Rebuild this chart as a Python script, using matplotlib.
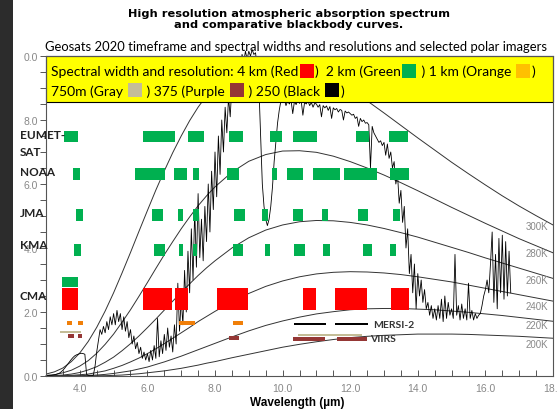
import numpy as np
import matplotlib
matplotlib.use("Agg")
import matplotlib.pyplot as plt
from matplotlib.patches import Rectangle
from matplotlib.ticker import MultipleLocator
from matplotlib.offsetbox import TextArea, DrawingArea, HPacker, VPacker, AnchoredOffsetbox

# blackbody reference curves, radiance read at these wavelengths (um)
BB_WL = [3.0, 3.25, 3.5, 3.75, 4.0, 4.25, 4.5, 4.75, 5.0, 5.25, 5.5, 5.75, 6.0, 6.25,
         6.5, 6.75, 7.0, 7.25, 7.5, 7.75, 8.0, 8.5, 9.0, 9.5, 10.0, 10.5, 11.0, 11.5,
         12.0, 12.5, 13.0, 13.5, 14.0, 14.5, 15.0, 15.5, 16.0, 16.5, 17.0, 17.5, 18.0]
BB_300 = [0.06, 0.13, 0.25, 0.45, 0.72, 1.08, 1.52, 2.03, 2.60, 3.22, 3.86, 4.52, 5.17, 5.81,
          6.41, 6.98, 7.50, 7.98, 8.40, 8.76, 9.08, 9.55, 9.83, 9.94, 9.92, 9.79, 9.57, 9.29,
          8.96, 8.60, 8.22, 7.83, 7.44, 7.06, 6.68, 6.32, 5.97, 5.63, 5.31, 5.01, 4.72]
BB_280 = [0.02, 0.04, 0.10, 0.18, 0.31, 0.48, 0.71, 0.99, 1.31, 1.68, 2.07, 2.49, 2.92, 3.36,
          3.79, 4.20, 4.60, 4.97, 5.32, 5.63, 5.91, 6.37, 6.71, 6.92, 7.03, 7.04, 6.99, 6.87,
          6.70, 6.50, 6.28, 6.04, 5.79, 5.53, 5.27, 5.02, 4.77, 4.53, 4.29, 4.07, 3.85]
BB_260 = [0.00, 0.01, 0.03, 0.06, 0.11, 0.19, 0.29, 0.43, 0.59, 0.79, 1.01, 1.25, 1.51, 1.78,
          2.06, 2.34, 2.61, 2.88, 3.14, 3.38, 3.60, 4.00, 4.32, 4.56, 4.72, 4.82, 4.86, 4.85,
          4.80, 4.72, 4.61, 4.48, 4.34, 4.18, 4.02, 3.86, 3.69, 3.53, 3.37, 3.21, 3.05]
BB_240 = [0.00, 0.00, 0.01, 0.02, 0.04, 0.06, 0.11, 0.16, 0.24, 0.33, 0.44, 0.56, 0.70, 0.85,
          1.01, 1.18, 1.35, 1.52, 1.70, 1.86, 2.02, 2.32, 2.58, 2.80, 2.97, 3.10, 3.19, 3.24,
          3.26, 3.25, 3.22, 3.17, 3.10, 3.02, 2.94, 2.84, 2.74, 2.64, 2.54, 2.44, 2.34]
BB_220 = [0.00, 0.00, 0.00, 0.00, 0.01, 0.02, 0.03, 0.05, 0.08, 0.12, 0.16, 0.22, 0.28, 0.36,
          0.44, 0.53, 0.62, 0.72, 0.82, 0.92, 1.02, 1.22, 1.41, 1.58, 1.72, 1.84, 1.94, 2.01,
          2.07, 2.10, 2.11, 2.11, 2.09, 2.07, 2.03, 1.99, 1.94, 1.89, 1.83, 1.77, 1.71]
BB_200 = [0.00, 0.00, 0.00, 0.00, 0.00, 0.00, 0.01, 0.01, 0.02, 0.03, 0.05, 0.07, 0.10, 0.13,
          0.16, 0.20, 0.24, 0.29, 0.34, 0.40, 0.45, 0.57, 0.68, 0.79, 0.90, 0.99, 1.07, 1.14,
          1.20, 1.24, 1.27, 1.29, 1.31, 1.31, 1.31, 1.30, 1.28, 1.26, 1.24, 1.21, 1.18]

# atmospheric spectrum, sampled every 0.05 um from 3.0 to 16.75
SPEC = [
    0.01, 0.01, 0.02, 0.02, 0.03, 0.04, 0.05, 0.07, 0.09, 0.13, 0.18, 0.24, 0.31, 0.38, 0.45, 0.52, 0.58, 0.63, 0.66, 0.68,
    0.70, 0.71, 0.70, 0.68, 0.05, 0.02, 0.01, 0.01, 0.02, 0.30, 0.75, 1.10, 1.45, 1.30, 1.55, 1.35, 1.70, 1.45, 1.85, 1.60,
    1.95, 1.60, 2.05, 1.70, 1.95, 1.45, 1.85, 1.40, 1.70, 1.20, 1.45, 1.00, 1.25, 0.85, 1.05, 0.70, 0.90, 0.55, 0.75, 0.50,
    0.70, 0.45, 0.80, 0.50, 0.95, 0.55, 1.80, 0.60, 1.10, 0.70, 1.30, 0.80, 1.50, 0.90, 1.25, 0.75, 1.60, 1.00, 2.90, 1.40,
    2.40, 1.60, 3.30, 2.00, 3.90, 2.60, 4.60, 3.00, 5.20, 3.40, 5.70, 3.70, 4.90, 3.60, 5.30, 4.20, 6.00, 4.50, 6.40, 5.20,
    7.00, 5.60, 7.50, 6.30, 8.00, 7.00, 8.40, 7.60, 8.70, 8.10, 9.10, 8.60, 9.50, 9.10, 9.80, 9.50, 10.05, 9.80, 10.15, 9.90,
    10.15, 10.00, 10.20, 10.05, 10.10, 9.60, 9.00, 7.50, 6.00, 5.30, 4.90, 4.70, 4.90, 5.30, 5.90, 6.70, 7.30, 7.90, 8.30, 8.60,
    8.55, 8.65, 8.45, 8.60, 8.50, 8.62, 8.20, 8.58, 8.48, 8.63, 8.52, 8.60, 8.15, 8.55, 8.50, 8.60, 8.45, 8.55, 8.40, 8.52,
    8.50, 8.40, 8.48, 8.10, 8.45, 8.38, 8.44, 8.30, 8.42, 8.05, 8.38, 8.32, 8.36, 8.25, 8.33, 8.30, 8.00, 8.28, 8.22, 8.25,
    8.20, 8.15, 8.18, 8.05, 8.10, 7.80, 8.05, 7.95, 8.00, 7.90, 7.92, 7.85, 6.50, 7.80, 7.60, 7.50, 7.40, 7.30, 7.35, 7.20,
    7.30, 6.90, 7.25, 6.80, 7.00, 6.50, 6.70, 6.00, 6.30, 5.40, 5.80, 4.80, 5.30, 4.00, 4.60, 3.20, 3.80, 2.60, 3.50, 2.10,
    3.20, 2.50, 3.00, 2.30, 2.70, 2.10, 2.30, 1.90, 2.20, 1.80, 2.10, 1.75, 2.20, 1.80, 2.40, 1.70, 2.50, 1.80, 2.30, 1.90,
    2.10, 1.80, 3.80, 1.90, 2.20, 1.75, 2.25, 1.80, 2.10, 1.75, 2.90, 1.80, 2.05, 1.75, 1.95, 1.80, 1.90, 1.95, 2.20, 2.50,
    2.70, 3.00, 2.60, 3.50, 4.50, 2.30, 3.80, 2.10, 4.30, 2.60, 4.40, 2.40, 4.20, 2.50, 3.90, 2.60,
]
SPEC_WL = np.round(np.arange(len(SPEC)) * 0.05 + 3.0, 2)

# channel bands (start, end) in um, per agency
EUMETSAT = [(3.53, 3.95), (5.87, 6.82), (7.20, 7.67), (8.41, 8.83), (9.63, 9.98),
            (10.31, 11.02), (12.17, 12.56), (13.15, 13.71)]
NOAA = [(3.80, 4.00), (5.63, 6.52), (6.79, 7.17), (7.35, 7.53), (8.36, 8.71), (9.69, 9.83),
        (10.13, 10.60), (10.90, 11.70), (11.82, 12.79), (13.18, 13.74)]
JMA = [(3.89, 4.09), (6.14, 6.46), (6.91, 7.05), (7.35, 7.53), (8.56, 8.89), (9.39, 9.57),
       (10.31, 10.60), (11.17, 11.34), (12.23, 12.53), (13.27, 13.47)]
KMA = [(3.83, 4.04), (6.20, 6.52), (6.93, 7.05), (7.35, 7.47), (8.53, 8.83), (9.48, 9.63),
       (10.34, 10.66), (11.20, 11.40), (12.38, 12.64), (13.18, 13.36)]
CMA_2KM = [(3.47, 3.95)]
CMA_4KM = [(3.47, 3.95), (5.87, 6.73), (6.82, 7.20), (8.06, 8.98), (10.60, 10.99),
           (11.55, 12.50), (13.21, 13.74)]
POLAR_1KM = [(3.62, 3.77), (3.95, 4.09), (6.93, 7.41), (8.53, 8.83)]
VIIRS_750_SW = [(3.41, 4.04)]
VIIRS_750_LW = [(10.46, 12.35)]
P375_SW = [(3.65, 3.83), (3.95, 4.07)]
P375_MW = [(8.41, 8.71)]
VIIRS_375_LW = [(10.31, 11.25), (11.61, 12.50)]
MERSI_250 = [(10.34, 11.28), (11.55, 12.53)]

ROW_NAMES = ["EUMET-", "SAT", "NOAA", "JMA", "KMA", "CMA"]
ROW_NAME_Y = [7.56, 7.0, 6.4, 5.1, 4.12, 2.5]
K_LABELS = ["300K", "280K", "260K", "240K", "220K", "200K"]
K_LABEL_Y = [4.7, 3.85, 3.0, 2.2, 1.6, 1.0]

RED, GREEN, ORANGE, GRAY, PURPLE = "#ff0000", "#00b050", "#f07f09", "#c4bd97", "#953735"

fig = plt.figure(figsize=(5.58, 4.10), dpi=100)
fig.add_artist(Rectangle((0, 0), 13 / 558, 1, transform=fig.transFigure,
                         facecolor="#2c2c2c", edgecolor="none", zorder=0))
ax = fig.add_axes([46 / 558, 1 - 377 / 410, 507 / 558, 320 / 410])
ax.set_xlim(3, 18)
ax.set_ylim(0, 10)

for curve in [BB_300, BB_280, BB_260, BB_240, BB_220, BB_200]:
    ax.plot(BB_WL, curve, color="#333333", lw=0.7, zorder=2)
ax.plot(SPEC_WL, SPEC, color="black", lw=0.6, zorder=2.1, clip_on=False)


def bands(rows, y, h, color):
    for s, e in rows:
        ax.barh(y, e - s, left=s, height=h, color=color, zorder=2.2)


bands(EUMETSAT, 7.48, 0.34, GREEN)
bands(NOAA, 6.31, 0.37, GREEN)
bands(JMA, 5.03, 0.37, GREEN)
bands(KMA, 3.94, 0.37, GREEN)
bands(CMA_2KM, 2.94, 0.31, GREEN)
bands(CMA_4KM, 2.41, 0.69, RED)
bands(POLAR_1KM, 1.66, 0.13, ORANGE)
bands(VIIRS_750_SW, 1.38, 0.07, GRAY)
bands(VIIRS_750_LW, 1.29, 0.07, GRAY)
bands(P375_SW, 1.25, 0.12, PURPLE)
bands(P375_MW, 1.19, 0.12, PURPLE)
bands(VIIRS_375_LW, 1.16, 0.12, PURPLE)
bands(MERSI_250, 1.62, 0.06, "black")

ax.text(12.68, 1.62, "MERSI-2", family="Lato", weight="bold", size=7.5, color="#333333",
        va="center", ha="left", zorder=2.3)
ax.text(12.60, 1.17, "VIIRS", family="Lato", weight="bold", size=7.5, color="#333333",
        va="center", ha="left", zorder=2.3)

# yellow legend box over the top of the plot
ax.add_patch(Rectangle((3, 8.56), 15, 1.44, facecolor="#ffff00", edgecolor="black",
                       lw=0.8, zorder=2.4, clip_on=False))


def sq(color):
    da = DrawingArea(10, 10, 0, 0)
    da.add_artist(Rectangle((0, 0), 10, 10, facecolor=color, edgecolor="none"))
    return da


tp = dict(family="Lato", size=10, color="black")
line1 = HPacker(children=[TextArea("Spectral width and resolution: 4 km (Red", textprops=tp), sq(RED),
                          TextArea(")  2 km (Green", textprops=tp), sq(GREEN),
                          TextArea(" ) 1 km (Orange ", textprops=tp), sq("#ffc000"),
                          TextArea(")", textprops=tp)], sep=1, align="center")
line2 = HPacker(children=[TextArea("750m (Gray ", textprops=tp), sq(GRAY),
                          TextArea(" ) 375 (Purple ", textprops=tp), sq(PURPLE),
                          TextArea(" ) 250 (Black ", textprops=tp), sq("black"),
                          TextArea(")", textprops=tp)], sep=1, align="center")
box = AnchoredOffsetbox(loc="upper left", child=VPacker(children=[line1, line2], sep=4, align="left"),
                        pad=0, borderpad=0, frameon=False,
                        bbox_to_anchor=(5 / 507, 1 - 8 / 320), bbox_transform=ax.transAxes)
box.set_zorder(2.45)
ax.add_artist(box)

for name, y in zip(ROW_NAMES, ROW_NAME_Y):
    ax.text(2.22, y, name, family="Lato", weight="bold", size=8.5, color="#222222",
            ha="left", va="center", clip_on=False, zorder=3)

for lab, y in zip(K_LABELS, K_LABEL_Y):
    ax.text(17.85, y, lab, family="Liberation Sans", size=7, color="#888888",
            ha="right", va="center", zorder=3)

ax.set_xticks([4, 6, 8, 10, 12, 14, 16, 18])
ax.set_xticklabels(["4.0", "6.0", "8.0", "10.0", "12.0", "14.0", "16.0", "18.0"])
ax.set_yticks([0, 2, 4, 6, 8, 10])
ax.set_yticklabels(["0.0", "2.0", "4.0", "6.0", "8.0", "0.0"])
ax.xaxis.set_minor_locator(MultipleLocator(0.5))
ax.yaxis.set_minor_locator(MultipleLocator(0.5))
ax.tick_params(axis="x", which="both", direction="in", top=True, length=4, width=0.7,
               color="#555555", labelsize=7.5, labelcolor="#888888", pad=5)
ax.tick_params(axis="y", which="both", direction="out", length=4, width=0.7,
               color="#555555", labelsize=7.5, labelcolor="#888888", pad=2)
for lab in ax.get_xticklabels() + ax.get_yticklabels():
    lab.set_family("Liberation Sans")
for sp in ax.spines.values():
    sp.set_color("#555555")
    sp.set_linewidth(0.8)

fig.text(289 / 558, 1 - 14 / 410, "High resolution atmospheric absorption spectrum",
         ha="center", va="center", weight="bold", size=8.2, family="DejaVu Sans")
fig.text(289 / 558, 1 - 25 / 410, "and comparative blackbody curves.",
         ha="center", va="center", weight="bold", size=8.2, family="DejaVu Sans")
fig.text(296 / 558, 1 - 47 / 410,
         "Geosats 2020 timeframe and spectral widths and resolutions and selected polar imagers",
         ha="center", va="center", size=9.4, family="Lato")
fig.text(297 / 558, 1 - 403 / 410, "Wavelength (\u00b5m)", ha="center", va="center",
         weight="bold", size=8.5, family="Liberation Sans")

fig.savefig("out.png", dpi=100)
